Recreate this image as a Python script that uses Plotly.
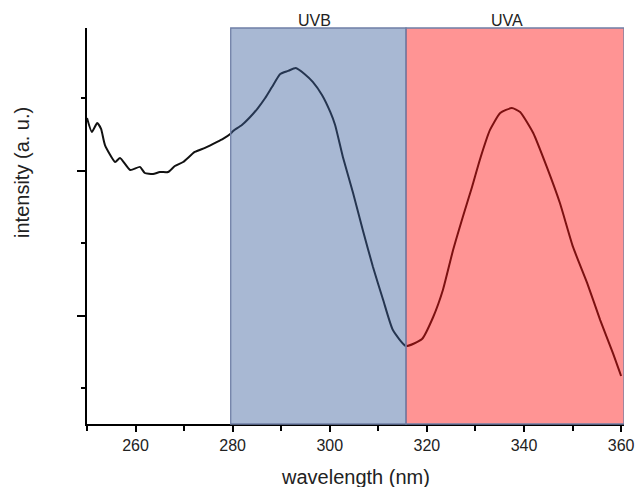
import plotly.graph_objects as go

# Spectrum
wavelength = [250.0, 251.0, 252.1, 252.9, 253.7, 255.8, 256.8, 258.9, 260.9, 261.9,
              263.6, 265.0, 266.7, 268.1, 269.8, 272.2, 274.3, 276.8, 278.0, 279.5,
              280.1, 281.9, 283.6, 285.2, 286.7, 288.1, 289.8, 291.4, 293.0, 294.8,
              296.5, 298.4, 300.1, 301.1, 302.7, 304.8, 306.8, 308.9, 311.0, 313.0,
              315.7, 319.0, 321.3, 323.3, 325.4, 327.4, 329.3, 330.9, 333.0, 335.1,
              337.5, 339.2, 341.9, 344.7, 347.4, 350.1, 353.0, 355.7, 358.3, 360.0]
intensity = [2.366, 2.269, 2.331, 2.290, 2.179, 2.062, 2.090, 2.007, 2.028, 1.986,
             1.979, 1.993, 1.993, 2.034, 2.062, 2.131, 2.159, 2.200, 2.221, 2.255,
             2.276, 2.317, 2.372, 2.434, 2.503, 2.579, 2.669, 2.690, 2.710, 2.669,
             2.614, 2.524, 2.407, 2.317, 2.097, 1.848, 1.593, 1.338, 1.110, 0.903,
             0.793, 0.841, 0.993, 1.179, 1.455, 1.683, 1.890, 2.076, 2.283, 2.400,
             2.434, 2.407, 2.262, 2.028, 1.779, 1.476, 1.228, 0.972, 0.745, 0.586]

band_names = ["UVB", "UVA"]
band_start = [279.6, 315.7]
band_end = [315.7, 360.6]
band_fill = ["rgb(62,98,158)", "rgb(255,18,18)"]
band_label_x = [296.8, 336.5]

x_range = [250, 360.6]
y_range = [0.255, 2.986]

fig = go.Figure()
fig.add_trace(go.Scatter(x=wavelength, y=intensity, mode="lines",
                         line=dict(color="#111111", width=2, shape="spline", smoothing=0.5),
                         hoverinfo="skip", showlegend=False))

for name, x0, x1, col, lx in zip(band_names, band_start, band_end, band_fill, band_label_x):
    fig.add_shape(type="rect", xref="x", yref="paper", x0=x0, x1=x1, y0=0, y1=1,
                  fillcolor=col, opacity=0.45, line=dict(width=0), layer="above")
    fig.add_shape(type="rect", xref="x", yref="paper", x0=x0, x1=x1, y0=0, y1=1,
                  fillcolor="rgba(0,0,0,0)", line=dict(color="#6F7FA6", width=1.3), layer="above")
    fig.add_annotation(x=lx, xref="x", y=1, yref="paper", yanchor="bottom", xanchor="center",
                       yshift=-3, text=name, showarrow=False,
                       font=dict(family="Liberation Sans, Arial", size=16, color="#222"))

fig.add_annotation(x=0.5, xref="paper", y=-0.134, yref="paper", yanchor="middle",
                   text="wavelength (nm)", showarrow=False,
                   font=dict(family="Liberation Sans, Arial", size=20, color="#222"))
fig.add_annotation(x=-0.121, xref="paper", y=0.634, yref="paper", xanchor="center",
                   yanchor="middle", textangle=-90,
                   text="intensity (a. u.)", showarrow=False,
                   font=dict(family="Liberation Sans, Arial", size=20, color="#222"))

fig.update_layout(
    width=636, height=487,
    margin=dict(l=87, r=12, t=28, b=63, autoexpand=False),
    paper_bgcolor="white", plot_bgcolor="white",
    font=dict(family="Liberation Sans, Arial", size=16, color="#222"),
    xaxis=dict(range=x_range, showgrid=False, zeroline=False, showline=True,
               automargin=False,
               linecolor="black", linewidth=1.5, ticks="outside", ticklen=6,
               tickwidth=1.5, tickcolor="black", tick0=260, dtick=20,
               minor=dict(ticks="outside", ticklen=5, tickwidth=1.5, tickcolor="black",
                          tick0=250, dtick=10),
               tickfont=dict(size=16, color="#222")),
    yaxis=dict(range=y_range, showgrid=False, zeroline=False, showline=True,
               automargin=False,
               linecolor="black", linewidth=1.5, ticks="outside", ticklen=8,
               tickwidth=1.5, tickcolor="black", tick0=0, dtick=1,
               showticklabels=False,
               minor=dict(ticks="outside", ticklen=4, tickwidth=1.5, tickcolor="black",
                          tick0=0, dtick=0.5)),
)

fig.write_html("out.html", config={"displayModeBar": False},
               post_script="document.body.style.margin='0';document.body.style.overflow='hidden';")
